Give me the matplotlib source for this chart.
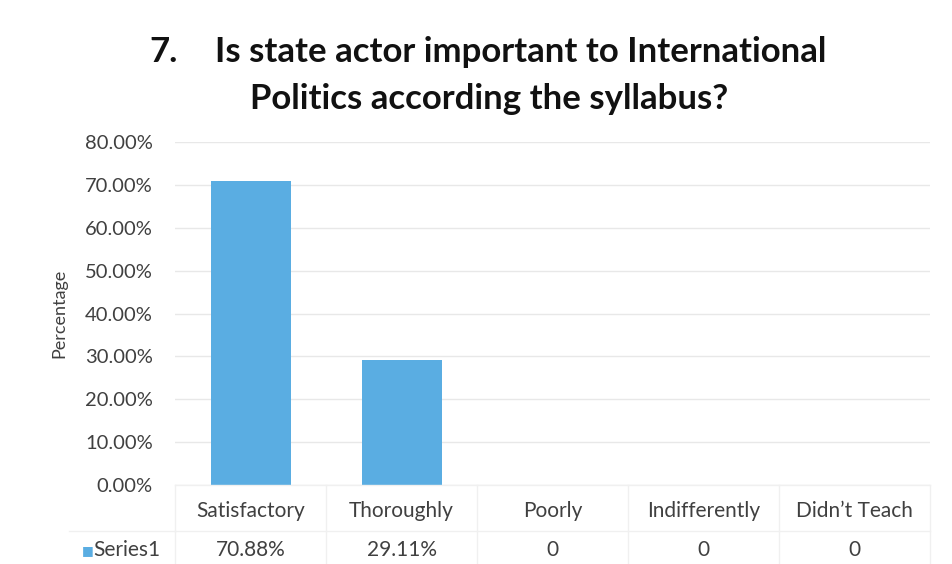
import matplotlib
matplotlib.use("Agg")
import matplotlib.pyplot as plt
import numpy as np

# data
categories = ["Satisfactory", "Thoroughly", "Poorly", "Indifferently", "Didn\u2019t Teach"]
values = [0.7088, 0.2911, 0, 0, 0]
value_labels = ["70.88%", "29.11%", "0", "0", "0"]
series_name = "Series1"
yticks = [0, 0.1, 0.2, 0.3, 0.4, 0.5, 0.6, 0.7, 0.8]

plt.rcParams['font.family'] = ['Lato', 'DejaVu Sans']
bar_color = "#5aade2"
text_color = "#404040"
line_color = "#f0f0f0"

fig = plt.figure(figsize=(9.52, 5.64), dpi=100)
ax = fig.add_axes([0.184, 0.140, 0.793, 0.608])

x = np.arange(len(categories))
ax.bar(x, values, width=0.53, color=bar_color, zorder=2)
ax.set_xlim(-0.5, len(categories) - 0.5)
ax.set_ylim(0, 0.8)
ax.set_yticks(yticks)
ax.set_yticklabels(["%.2f%%" % (t * 100) for t in yticks], fontsize=14.5, color=text_color)
ax.yaxis.grid(True, color="#e8e8e8", linewidth=1, zorder=0)
ax.set_xticks([])
ax.tick_params(axis='y', length=0, pad=16)
for s in ax.spines.values():
    s.set_visible(False)
ax.set_ylabel("Percentage", fontsize=13, color=text_color, labelpad=13)

# data table under the plot
trans = ax.get_xaxis_transform()
for i, (c, v) in enumerate(zip(categories, value_labels)):
    ax.text(i, -0.075, c, transform=trans, ha='center', va='center', fontsize=15,
            color=text_color, clip_on=False)
    ax.text(i, -0.19, v, transform=trans, ha='center', va='center', fontsize=15,
            color=text_color, clip_on=False)
for i in range(len(categories) + 1):
    ax.plot([i - 0.5, i - 0.5], [0, -0.26], transform=trans, color=line_color,
            linewidth=1, clip_on=False)
for yy in [0, -0.135, -0.26]:
    ax.plot([-0.5, len(categories) - 0.5], [yy, yy], transform=trans, color=line_color,
            linewidth=1, clip_on=False)
ax.plot([-1.2, -0.5], [-0.135, -0.135], transform=trans, color=line_color,
        linewidth=1, clip_on=False)
ax.plot([-1.2, -0.5], [-0.26, -0.26], transform=trans, color=line_color,
        linewidth=1, clip_on=False)
ax.text(-1.12, -0.19, "\u25a0", transform=trans, ha='left', va='center', fontsize=9,
        color=bar_color, clip_on=False, family='DejaVu Sans')
ax.text(-1.045, -0.19, series_name, transform=trans, ha='left', va='center', fontsize=15,
        color=text_color, clip_on=False)

# title
fig.text(0.157, 0.908, "7.", fontsize=25, fontweight='bold', color="#111111", ha='left', va='center')
fig.text(0.226, 0.908, "Is state actor important to International", fontsize=25,
         fontweight='bold', color="#111111", ha='left', va='center')
fig.text(0.514, 0.825, "Politics according the syllabus?", fontsize=25,
         fontweight='bold', color="#111111", ha='center', va='center')

fig.savefig("out.png", dpi=100)
